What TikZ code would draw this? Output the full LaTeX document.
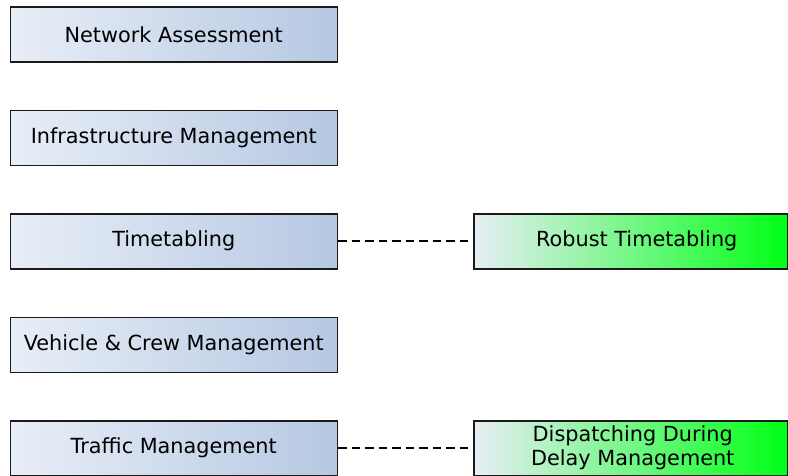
\documentclass[tikz,border=0pt]{standalone}
\usepackage{fontspec}
\setmainfont{DejaVu Sans}
\definecolor{boxline}{HTML}{1A1A1A}
\definecolor{blueL}{HTML}{E8EEF7}
\definecolor{blueR}{HTML}{B6C8E2}
\definecolor{greenL}{HTML}{E8EEF6}
\definecolor{greenR}{HTML}{00FF16}
\tikzset{
  layer/.style={draw=boxline, line width=1.5pt, minimum width=327pt, minimum height=55pt,
    inner sep=0pt, anchor=north west, left color=blueL, right color=blueR,
    font=\fontsize{20.8pt}{24pt}\selectfont, align=center},
  method/.style={layer, minimum width=314pt, left color=greenL, right color=greenR},
  link/.style={line width=2pt, dash pattern=on 8.5pt off 5pt}
}
\begin{document}
\begin{tikzpicture}[x=1pt,y=-1pt]
\useasboundingbox (0,0) rectangle (788,475);
\node[layer] (net)   at (9.5,6)     {Network Assessment};
\node[layer] (infra) at (9.5,109.5) {Infrastructure Management};
\node[layer] (tt)    at (9.5,213)   {Timetabling};
\node[layer] (crew)  at (9.5,316.5) {Vehicle \& Crew Management};
\node[layer] (traf)  at (9.5,420)   {Traffic Management};
\node[method] (rob)  at (473,213)   {\hspace*{12pt}Robust Timetabling};
\node[method] (disp) at (473,420)   {\hspace*{4pt}Dispatching During\\\hspace*{4pt}Delay Management};
\draw[link] (tt.east) -- (rob.west);
\draw[link] (traf.east) -- (disp.west);
\end{tikzpicture}
\end{document}
